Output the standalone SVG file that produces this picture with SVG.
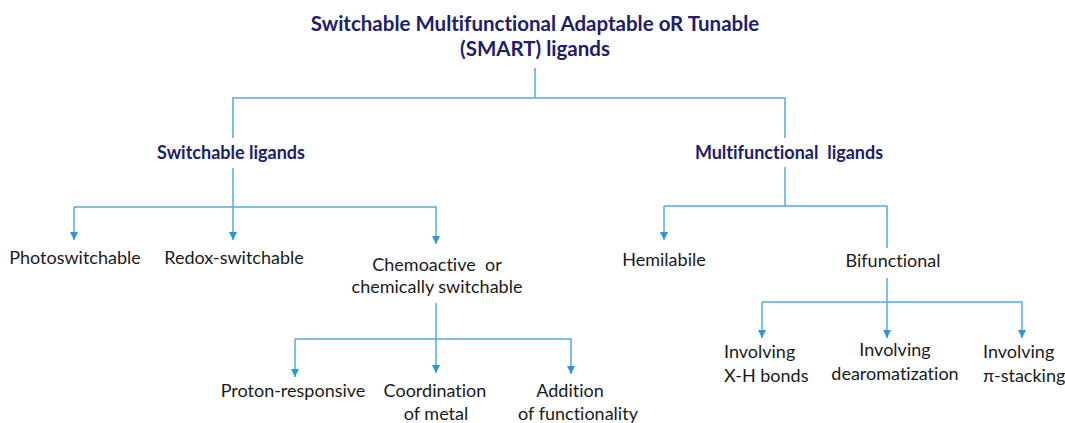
<svg xmlns="http://www.w3.org/2000/svg" width="1065" height="423" viewBox="0 0 1065 423">
<defs>
<style>
text{font-family:Lato,"Open Sans","Liberation Sans",sans-serif;font-variant-ligatures:none}
.t{font-size:18px;fill:#1a1a1a}
.h{font-weight:bold;fill:#1c2068}
.c{fill:none;stroke:#5aa8de;stroke-width:1.5}
.m{text-anchor:middle}
</style>
<marker id="ar" viewBox="0 0 10 10" refX="10" refY="5" markerWidth="8" markerHeight="8" markerUnits="userSpaceOnUse" orient="auto">
<path d="M0,0 L10,5 L0,10 Z" fill="#2a98d8"/>
</marker>
</defs>
<rect width="1065" height="423" fill="#ffffff"/>
<g id="connectors">
<path class="c" d="M535,68 V98"/>
<path class="c" d="M233,138 V98 H785 V138"/>
<path class="c" d="M233,168 V240" marker-end="url(#ar)"/>
<path class="c" d="M74,207 H436 V244" marker-end="url(#ar)"/>
<path class="c" d="M74,207 V240" marker-end="url(#ar)"/>
<path class="c" d="M785,167 V206"/>
<path class="c" d="M664,206 H887 V248"/>
<path class="c" d="M664,206 V240" marker-end="url(#ar)"/>
<path class="c" d="M436,303 V373" marker-end="url(#ar)"/>
<path class="c" d="M295,339 H571 V374" marker-end="url(#ar)"/>
<path class="c" d="M295,339 V377" marker-end="url(#ar)"/>
<path class="c" d="M887,278 V338" marker-end="url(#ar)"/>
<path class="c" d="M762,302 H1022 V338" marker-end="url(#ar)"/>
<path class="c" d="M762,302 V338" marker-end="url(#ar)"/>
</g>
<g id="root">
<text class="h m" x="535" y="31" font-size="20.5">Switchable Multifunctional Adaptable oR Tunable</text>
<text class="h m" x="535" y="56" font-size="20.5">(SMART) ligands</text>
</g>
<g id="switchable"><text class="h m" x="231" y="159" font-size="18">Switchable ligands</text></g>
<g id="multifunctional"><text class="h m" x="789" y="159" font-size="18" xml:space="preserve">Multifunctional  ligands</text></g>
<g id="photoswitchable"><text class="t m" x="75" y="264">Photoswitchable</text></g>
<g id="redox"><text class="t m" x="234" y="264">Redox-switchable</text></g>
<g id="chemoactive"><text class="t m" x="437" y="271" xml:space="preserve">Chemoactive  or</text><text class="t m" x="437" y="293">chemically switchable</text></g>
<g id="hemilabile"><text class="t m" x="664" y="266">Hemilabile</text></g>
<g id="bifunctional"><text class="t m" x="893" y="267">Bifunctional</text></g>
<g id="proton"><text class="t m" x="293" y="397">Proton-responsive</text></g>
<g id="coordination"><text class="t m" x="435" y="397">Coordination</text><text class="t m" x="436" y="420">of metal</text></g>
<g id="addition"><text class="t m" x="570" y="397">Addition</text><text class="t m" x="578" y="420">of functionality</text></g>
<g id="xh"><text class="t" x="724" y="358">Involving</text><text class="t" x="724" y="382">X-H bonds</text></g>
<g id="dearom"><text class="t m" x="895" y="356">Involving</text><text class="t m" x="895" y="380">dearomatization</text></g>
<g id="pi"><text class="t" x="983" y="358">Involving</text><text class="t" x="983" y="382">π-stacking</text></g>
</svg>
